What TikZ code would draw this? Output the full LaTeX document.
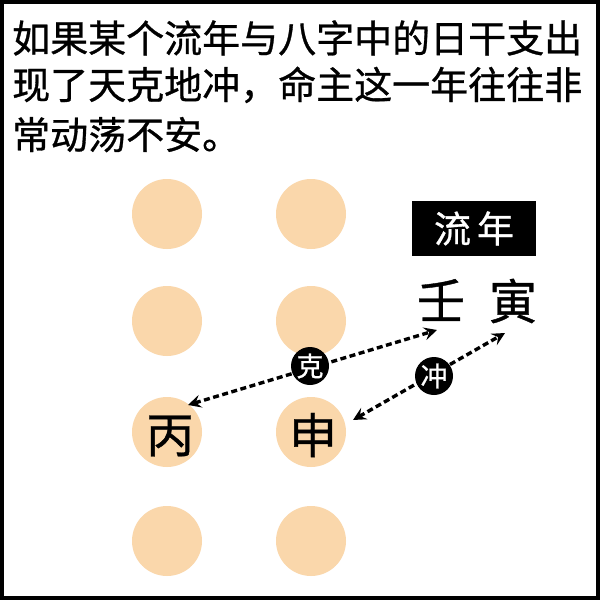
\documentclass[tikz,border=0pt]{standalone}
\usepackage{fontspec}
\setmainfont{Noto Sans CJK SC}
\newfontfamily\cjk{Noto Sans CJK SC}
\newfontfamily\cjkh[FakeBold=0.8]{Noto Sans CJK SC}
\newfontfamily\cjks[FakeBold=0.8]{Noto Sans CJK SC}
\usetikzlibrary{arrows.meta}
\definecolor{peach}{HTML}{FAD7AB}
\tikzset{
  x=1pt, y=-1pt,
  dot/.style={circle, fill=peach, minimum size=70pt, inner sep=0pt},
  stem/.style={font=\cjks\fontsize{48pt}{48pt}\selectfont, inner sep=0pt},
  tag/.style={circle, fill=black, text=white, minimum size=38pt, inner sep=0pt,
    font=\cjkh\fontsize{27pt}{27pt}\selectfont},
  link/.style={dash pattern=on 6pt off 3.5pt, line width=3.4pt,
    {Stealth[length=13pt,width=13pt,inset=5pt]}-{Stealth[length=13pt,width=13pt,inset=5pt]}},
  textline/.style={anchor=base west, inner sep=0pt, font=\cjkh\fontsize{38pt}{48pt}\selectfont}
}
\begin{document}
\begin{tikzpicture}
\useasboundingbox (0,0) rectangle (600,600);
\fill[white] (0,0) rectangle (600,600);
\draw[line width=4pt] (2,2) rectangle (598,598);
% text
\node[textline] (t1) at (12,52.5) {如果某个流年与八字中的日干支出};
\node[textline] (t2) at (12,99) {现了天克地冲，命主这一年往往非};
\node[textline] (t3) at (12,149) {常动荡不安。};
% circles
\node[dot] (c11) at (167,214) {};
\node[dot] (c12) at (311,214) {};
\node[dot] (c21) at (167,321) {};
\node[dot] (c22) at (311,321) {};
\node[dot] (c31) at (167,432) {};
\node[dot] (c32) at (311,432) {};
\node[dot] (c41) at (167,541) {};
\node[dot] (c42) at (311,541) {};
\node[stem] (bing) at (170,436) {丙};
\node[stem] (shen) at (313,435) {申};
% liunian
\node[fill=black, text=white, minimum width=124pt, minimum height=55pt, inner sep=0pt,
  font=\cjkh\fontsize{37pt}{37pt}\selectfont] (ln) at (474,228.5) {流\hspace{6pt}年};
\node[stem] (ren) at (441,300) {壬};
\node[stem] (yin) at (513,301) {寅};
% arrows
\coordinate (renTip) at (437,330);
\coordinate (bingTip) at (188,405);
\coordinate (yinTip) at (505,333);
\coordinate (shenTip) at (353,420);
\draw[link] (bingTip) -- (renTip);
\draw[link] (shenTip) -- (yinTip);
\node[tag] (ke) at (310,366) {克};
\node[tag] (chong) at (434,376) {冲};
\end{tikzpicture}
\end{document}
